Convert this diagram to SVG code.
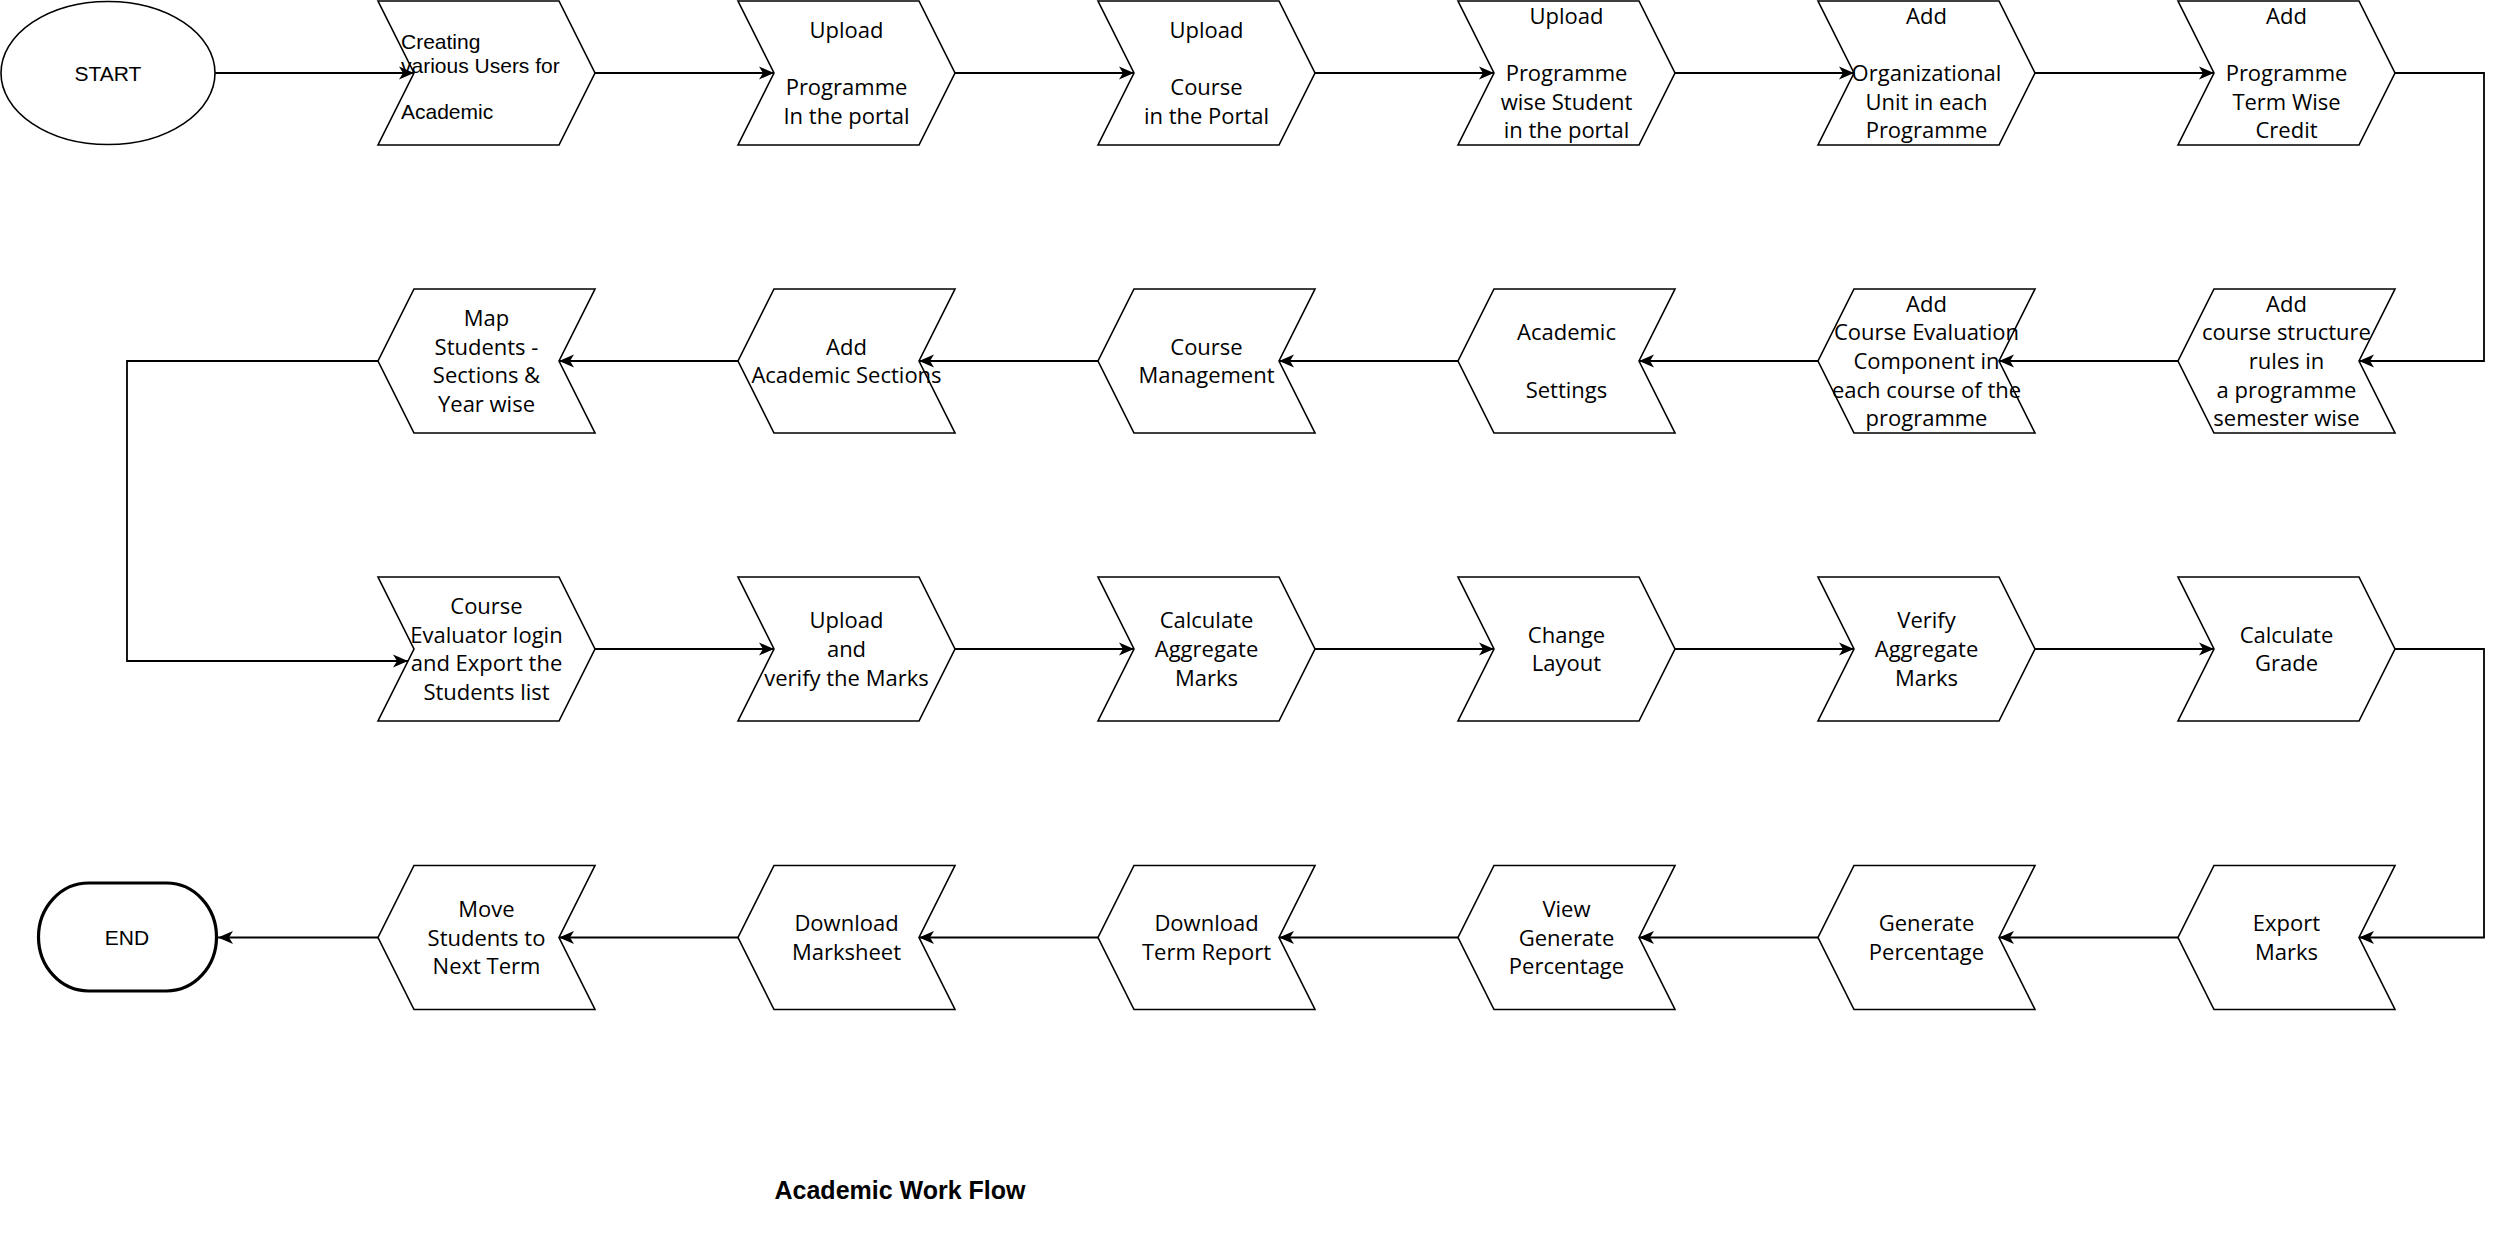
<svg xmlns="http://www.w3.org/2000/svg" xmlns:xlink="http://www.w3.org/1999/xlink" width="2500" height="1244" viewBox="0 0 2500 1244">
<style>
.shape{fill:#fff;stroke:#000;stroke-width:1.6;stroke-linejoin:miter}
.t{font-family:"Open Sans","Noto Sans",sans-serif;font-size:22px;fill:#000;text-anchor:middle}
.a{font-family:"Liberation Sans",Arial,sans-serif;font-size:21px;fill:#000}
.title{font-family:"Liberation Sans",Arial,sans-serif;font-size:25px;font-weight:bold;fill:#000;text-anchor:middle}
.c{fill:none;stroke:#000;stroke-width:1.8;marker-end:url(#arr)}
</style>
<defs>
<marker id="arr" markerUnits="userSpaceOnUse" markerWidth="16" markerHeight="14" viewBox="0 0 16 14" refX="15" refY="7" orient="auto">
<path d="M0,0.5 L15,7 L0,13.5 L4,7 Z" fill="#000"/>
</marker>
<polygon id="cr" points="0,0 181,0 217,72 181,144 0,144 36,72"/>
<polygon id="cl" points="36,0 217,0 181,72 217,144 36,144 0,72"/>
</defs>
<rect width="2500" height="1244" fill="#fff"/>

<g id="connectors">
<path class="c" d="M215,73 H414"/>
<path class="c" d="M595,73 H774"/>
<path class="c" d="M955,73 H1134"/>
<path class="c" d="M1315,73 H1494"/>
<path class="c" d="M1675,73 H1854"/>
<path class="c" d="M2035,73 H2214"/>
<path class="c" d="M2395,73 H2484 V361 H2359"/>
<path class="c" d="M2178,361 H1999"/>
<path class="c" d="M1818,361 H1639"/>
<path class="c" d="M1458,361 H1279"/>
<path class="c" d="M1098,361 H919"/>
<path class="c" d="M738,361 H559"/>
<path class="c" d="M378,361 H127 V661 H408"/>
<path class="c" d="M595,649 H774"/>
<path class="c" d="M955,649 H1134"/>
<path class="c" d="M1315,649 H1494"/>
<path class="c" d="M1675,649 H1854"/>
<path class="c" d="M2035,649 H2214"/>
<path class="c" d="M2395,649 H2484 V937.5 H2359"/>
<path class="c" d="M2178,937.5 H1999"/>
<path class="c" d="M1818,937.5 H1639"/>
<path class="c" d="M1458,937.5 H1279"/>
<path class="c" d="M1098,937.5 H919"/>
<path class="c" d="M738,937.5 H559"/>
<path class="c" d="M378,937.5 H218"/>
</g>

<g id="start">
<ellipse class="shape" cx="108" cy="73" rx="107" ry="71.5"/>
<text class="a" x="108" y="80.5" text-anchor="middle">START</text>
</g>

<g id="n1">
<use xlink:href="#cr" class="shape" x="378" y="1"/>
<text class="a" x="401"><tspan x="401" y="49">Creating</tspan><tspan x="401" y="72.5">various Users for</tspan><tspan x="401" y="119">Academic</tspan></text>
</g>
<g id="n2">
<use xlink:href="#cr" class="shape" x="738" y="1"/>
<text class="t"><tspan x="846.5" y="38">Upload</tspan><tspan x="846.5" y="95.4">Programme</tspan><tspan x="846.5" y="124">In the portal</tspan></text>
</g>
<g id="n3">
<use xlink:href="#cr" class="shape" x="1098" y="1"/>
<text class="t"><tspan x="1206.5" y="38">Upload</tspan><tspan x="1206.5" y="95.4">Course</tspan><tspan x="1206.5" y="124">in the Portal</tspan></text>
</g>
<g id="n4">
<use xlink:href="#cr" class="shape" x="1458" y="1"/>
<text class="t"><tspan x="1566.5" y="23.6">Upload</tspan><tspan x="1566.5" y="81">Programme</tspan><tspan x="1566.5" y="109.7">wise Student</tspan><tspan x="1566.5" y="138.4">in the portal</tspan></text>
</g>
<g id="n5">
<use xlink:href="#cr" class="shape" x="1818" y="1"/>
<text class="t"><tspan x="1926.5" y="23.6">Add</tspan><tspan x="1926.5" y="81">Organizational</tspan><tspan x="1926.5" y="109.7">Unit in each</tspan><tspan x="1926.5" y="138.4">Programme</tspan></text>
</g>
<g id="n6">
<use xlink:href="#cr" class="shape" x="2178" y="1"/>
<text class="t"><tspan x="2286.5" y="23.6">Add</tspan><tspan x="2286.5" y="81">Programme</tspan><tspan x="2286.5" y="109.7">Term Wise</tspan><tspan x="2286.5" y="138.4">Credit</tspan></text>
</g>

<g id="n7">
<use xlink:href="#cl" class="shape" x="2178" y="289"/>
<text class="t"><tspan x="2286.5" y="311.6">Add</tspan><tspan x="2286.5" y="340.3">course structure</tspan><tspan x="2286.5" y="369">rules in</tspan><tspan x="2286.5" y="397.7">a programme</tspan><tspan x="2286.5" y="426.4">semester wise</tspan></text>
</g>
<g id="n8">
<use xlink:href="#cl" class="shape" x="1818" y="289"/>
<text class="t"><tspan x="1926.5" y="311.6">Add</tspan><tspan x="1926.5" y="340.3">Course Evaluation</tspan><tspan x="1926.5" y="369">Component in</tspan><tspan x="1926.5" y="397.7">each course of the</tspan><tspan x="1926.5" y="426.4">programme</tspan></text>
</g>
<g id="n9">
<use xlink:href="#cl" class="shape" x="1458" y="289"/>
<text class="t"><tspan x="1566.5" y="340.3">Academic</tspan><tspan x="1566.5" y="397.7">Settings</tspan></text>
</g>
<g id="n10">
<use xlink:href="#cl" class="shape" x="1098" y="289"/>
<text class="t"><tspan x="1206.5" y="354.65">Course</tspan><tspan x="1206.5" y="383.35">Management</tspan></text>
</g>
<g id="n11">
<use xlink:href="#cl" class="shape" x="738" y="289"/>
<text class="t"><tspan x="846.5" y="354.65">Add</tspan><tspan x="846.5" y="383.35">Academic Sections</tspan></text>
</g>
<g id="n12">
<use xlink:href="#cl" class="shape" x="378" y="289"/>
<text class="t"><tspan x="486.5" y="325.95">Map</tspan><tspan x="486.5" y="354.65">Students -</tspan><tspan x="486.5" y="383.35">Sections &amp;</tspan><tspan x="486.5" y="412.05">Year wise</tspan></text>
</g>

<g id="n13">
<use xlink:href="#cr" class="shape" x="378" y="577"/>
<text class="t"><tspan x="486.5" y="613.95">Course</tspan><tspan x="486.5" y="642.65">Evaluator login</tspan><tspan x="486.5" y="671.35">and Export the</tspan><tspan x="486.5" y="700.05">Students list</tspan></text>
</g>
<g id="n14">
<use xlink:href="#cr" class="shape" x="738" y="577"/>
<text class="t"><tspan x="846.5" y="628.3">Upload</tspan><tspan x="846.5" y="657">and</tspan><tspan x="846.5" y="685.7">verify the Marks</tspan></text>
</g>
<g id="n15">
<use xlink:href="#cr" class="shape" x="1098" y="577"/>
<text class="t"><tspan x="1206.5" y="628.3">Calculate</tspan><tspan x="1206.5" y="657">Aggregate</tspan><tspan x="1206.5" y="685.7">Marks</tspan></text>
</g>
<g id="n16">
<use xlink:href="#cr" class="shape" x="1458" y="577"/>
<text class="t"><tspan x="1566.5" y="642.65">Change</tspan><tspan x="1566.5" y="671.35">Layout</tspan></text>
</g>
<g id="n17">
<use xlink:href="#cr" class="shape" x="1818" y="577"/>
<text class="t"><tspan x="1926.5" y="628.3">Verify</tspan><tspan x="1926.5" y="657">Aggregate</tspan><tspan x="1926.5" y="685.7">Marks</tspan></text>
</g>
<g id="n18">
<use xlink:href="#cr" class="shape" x="2178" y="577"/>
<text class="t"><tspan x="2286.5" y="642.65">Calculate</tspan><tspan x="2286.5" y="671.35">Grade</tspan></text>
</g>

<g id="n19">
<use xlink:href="#cl" class="shape" x="2178" y="865.5"/>
<text class="t"><tspan x="2286.5" y="931.15">Export</tspan><tspan x="2286.5" y="959.85">Marks</tspan></text>
</g>
<g id="n20">
<use xlink:href="#cl" class="shape" x="1818" y="865.5"/>
<text class="t"><tspan x="1926.5" y="931.15">Generate</tspan><tspan x="1926.5" y="959.85">Percentage</tspan></text>
</g>
<g id="n21">
<use xlink:href="#cl" class="shape" x="1458" y="865.5"/>
<text class="t"><tspan x="1566.5" y="916.8">View</tspan><tspan x="1566.5" y="945.5">Generate</tspan><tspan x="1566.5" y="974.2">Percentage</tspan></text>
</g>
<g id="n22">
<use xlink:href="#cl" class="shape" x="1098" y="865.5"/>
<text class="t"><tspan x="1206.5" y="931.15">Download</tspan><tspan x="1206.5" y="959.85">Term Report</tspan></text>
</g>
<g id="n23">
<use xlink:href="#cl" class="shape" x="738" y="865.5"/>
<text class="t"><tspan x="846.5" y="931.15">Download</tspan><tspan x="846.5" y="959.85">Marksheet</tspan></text>
</g>
<g id="n24">
<use xlink:href="#cl" class="shape" x="378" y="865.5"/>
<text class="t"><tspan x="486.5" y="916.8">Move</tspan><tspan x="486.5" y="945.5">Students to</tspan><tspan x="486.5" y="974.2">Next Term</tspan></text>
</g>

<g id="end">
<rect x="38.5" y="883" width="178" height="108" rx="50" ry="54" fill="#fff" stroke="#000" stroke-width="3.2"/>
<text class="a" x="127" y="945" text-anchor="middle">END</text>
</g>

<g id="title">
<text class="title" x="900" y="1199">Academic Work Flow</text>
</g>
</svg>
